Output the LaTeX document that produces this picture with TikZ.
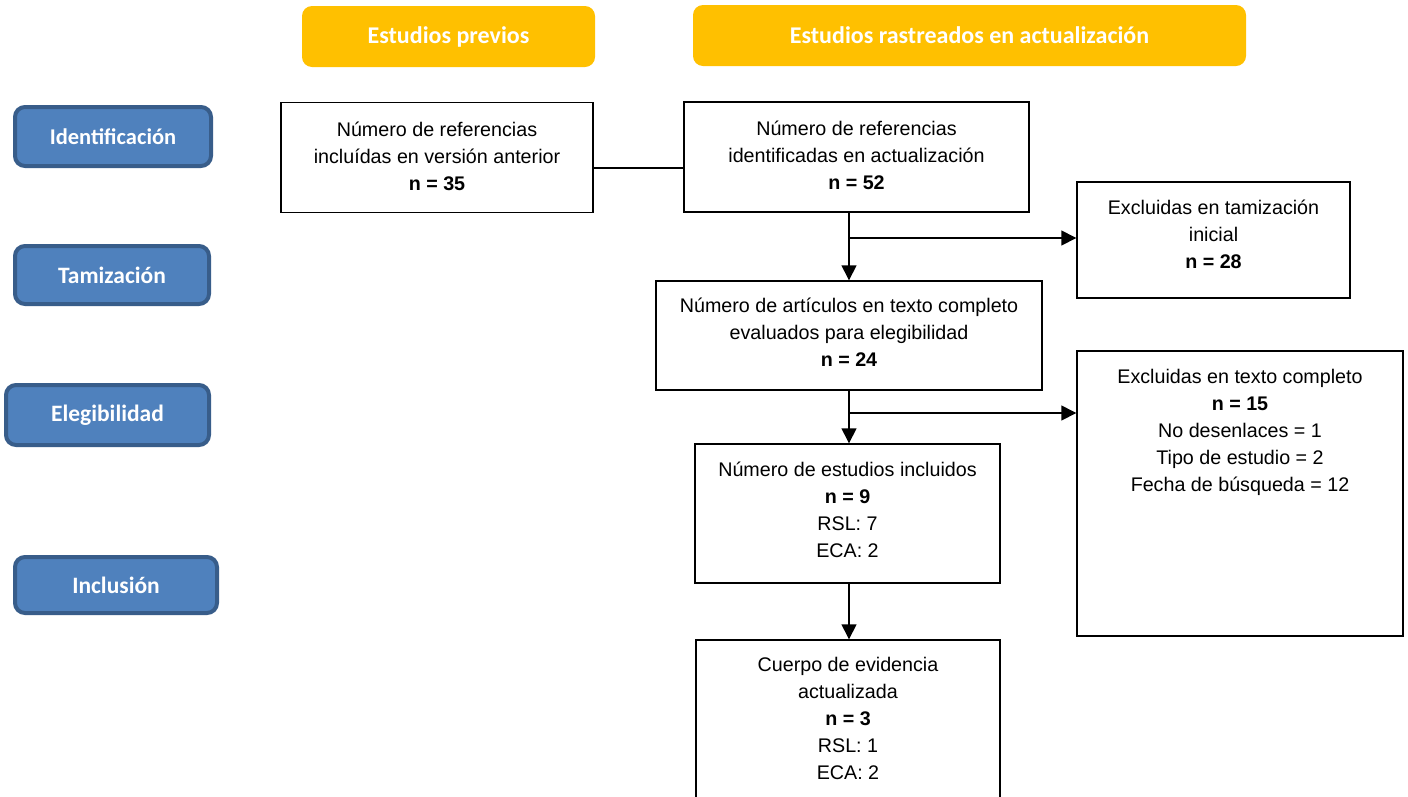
\documentclass[tikz,border=0pt]{standalone}
\usepackage{fontspec}
\setmainfont{Liberation Sans}
\newfontfamily\hdrfont{Carlito}
\usetikzlibrary{arrows.meta,calc}
\definecolor{gold}{HTML}{FFC000}
\definecolor{stageblue}{HTML}{4F81BD}
\definecolor{stageedge}{HTML}{385D8A}
\newcommand{\topstrut}{\rule{0pt}{20pt}}
\begin{document}
\begin{tikzpicture}[x=1pt,y=-1pt,
 hdr/.style={fill=gold, rounded corners=10pt, inner sep=0pt, text=white, font=\hdrfont\bfseries\fontsize{24}{27}\selectfont},
 stage/.style={fill=stageblue, draw=stageedge, line width=4pt, rounded corners=10pt, inner sep=0pt, text=white, font=\hdrfont\bfseries\fontsize{23.5}{27}\selectfont},
 flowbox/.style={draw=black, line width=1.4pt, inner sep=0pt},
 boxtxt/.style={align=center, anchor=north, inner sep=0pt, font=\fontsize{19.7}{27}\selectfont},
 conn/.style={line width=1.4pt},
 arr/.style={conn, -{Triangle[length=15pt,width=15pt]}}
]
\clip (0,0) rectangle (1408,796);
\fill[white] (0,0) rectangle (1408,796);

% headers
\node[hdr, minimum width=293pt, minimum height=61pt] (H1) at (448.5,36.5) {\raisebox{-7pt}{Estudios previos}};
\node[hdr, minimum width=553pt, minimum height=61pt] (H2) at (969.5,35.5) {\raisebox{-7pt}{Estudios rastreados en actualización}};

% stages
\node[stage, minimum width=196pt, minimum height=59pt, font=\hdrfont\bfseries\fontsize{22.5}{27}\selectfont] (S1) at (113,136.5) {\raisebox{-3pt}{Identificación}};
\node[stage, minimum width=194pt, minimum height=58pt] (S2) at (112,275) {\raisebox{-5pt}{Tamización}};
\node[stage, minimum width=203pt, minimum height=60pt] (S3) at (107.5,415) {\raisebox{-5pt}{Elegibilidad}};
\node[stage, minimum width=202pt, minimum height=56pt] (S4) at (116,585) {\raisebox{-5pt}{Inclusión}};

% boxes
\node[flowbox, minimum width=312pt, minimum height=110pt] (A) at (437,157.5) {};
\node[flowbox, minimum width=345pt, minimum height=110pt] (B) at (856.5,157) {};
\node[flowbox, minimum width=273pt, minimum height=116pt] (C) at (1213.5,240) {};
\node[flowbox, minimum width=386pt, minimum height=109pt] (D) at (849,335.5) {};
\node[flowbox, minimum width=326pt, minimum height=285pt] (E) at (1240,493.5) {};
\node[flowbox, minimum width=305pt, minimum height=139pt] (F) at (847.5,513.5) {};
\node[flowbox, minimum width=304pt, minimum height=190pt] (G) at (848,735) {};

% texts
\node[boxtxt] (At) at ($(A.north)+(0,14)$) {\topstrut Número de referencias\\incluídas en versión anterior\\\textbf{n = 35}};
\node[boxtxt] (Bt) at ($(B.north)+(0,14)$) {\topstrut Número de referencias\\identificadas en actualización\\\textbf{n = 52}};
\node[boxtxt] (Ct) at ($(C.north)+(0,13)$) {\topstrut Excluidas en tamización\\inicial\\\textbf{n = 28}};
\node[boxtxt] (Dt) at ($(D.north)+(0,12)$) {\topstrut Número de artículos en texto completo\\evaluados para elegibilidad\\\textbf{n = 24}};
\node[boxtxt] (Et) at ($(E.north)+(0,13)$) {\topstrut Excluidas en texto completo\\\textbf{n = 15}\\No desenlaces = 1\\Tipo de estudio = 2\\Fecha de búsqueda = 12};
\node[boxtxt] (Ft) at ($(F.north)+(0,13)$) {\topstrut Número de estudios incluidos\\\textbf{n = 9}\\RSL: 7\\ECA: 2};
\node[boxtxt] (Gt) at ($(G.north)+(0,12)$) {\topstrut Cuerpo de evidencia\\actualizada\\\textbf{n = 3}\\RSL: 1\\ECA: 2};

% connectors
\coordinate (ab) at (566,168);
\draw[conn] (A.east |- ab) -- (ab -| B.west);
\draw[arr] (D.north |- B.south) -- (D.north);
\coordinate (bc) at (849,238);
\draw[arr] (bc) -- (bc -| C.west);
\draw[arr] (D.south) -- (D.south |- F.north);
\coordinate (de) at (849,413);
\draw[arr] (de) -- (de -| E.west);
\draw[arr] (D.south |- F.south) -- (D.south |- G.north);
\end{tikzpicture}
\end{document}
